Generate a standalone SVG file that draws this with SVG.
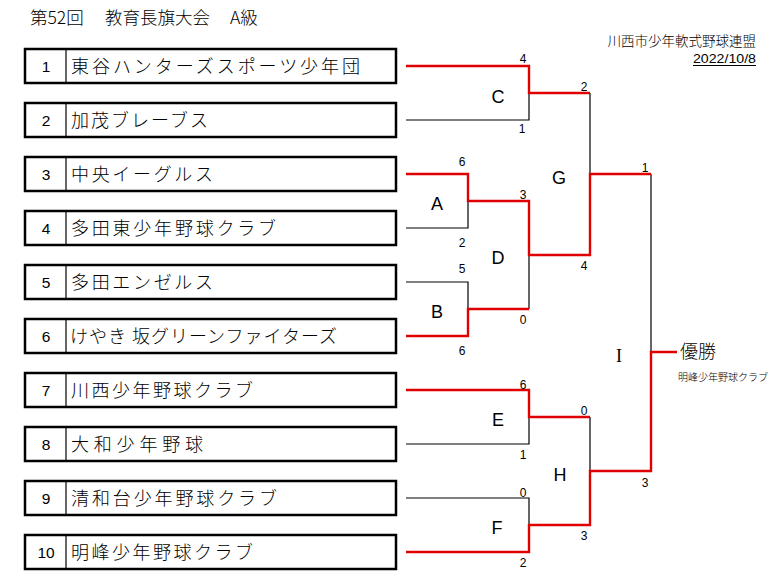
<svg xmlns="http://www.w3.org/2000/svg" width="782" height="588" viewBox="0 0 782 588">
<style>
.jp{font-family:"Noto Sans CJK JP","Liberation Sans",sans-serif;fill:#000;font-weight:300}
.name{font-size:18px}
.num{font-family:"Liberation Sans",sans-serif;font-size:15.5px;text-anchor:middle}
.sc{font-family:"Liberation Sans",sans-serif;font-size:12px;text-anchor:middle}
.ml{font-family:"Liberation Sans",sans-serif;font-size:18px;text-anchor:middle}
.box{fill:#fff;stroke:#000;stroke-width:2.5}
.div{stroke:#000;stroke-width:1.2}
.bk{fill:none;stroke:#000;stroke-width:1.2}
.rd{fill:none;stroke:#e00000;stroke-width:2.4}
</style>
<rect width="782" height="588" fill="#fff"/>
<g id="title">
<text class="jp" y="24" font-size="17.5"><tspan x="30">第52回</tspan><tspan x="105">教育長旗大会</tspan><tspan x="230">A級</tspan></text>
</g>
<g id="header">
<text class="jp" x="756" y="46" font-size="13.5" text-anchor="end">川西市少年軟式野球連盟</text>
<text x="693" y="63" font-family="Liberation Sans,sans-serif" font-size="13" textLength="63" lengthAdjust="spacingAndGlyphs">2022/10/8</text>
<line x1="693" y1="65.5" x2="756" y2="65.5" stroke="#000" stroke-width="1"/>
</g>
<g id="team1"><rect class="box" x="25" y="49" width="371" height="34"/><line class="div" x1="66" y1="49" x2="66" y2="83"/><text class="num" x="46" y="71.5">1</text><text class="jp name" x="71" y="73" textLength="289" lengthAdjust="spacing">東谷ハンターズスポーツ少年団</text></g>
<g id="team2"><rect class="box" x="25" y="103" width="371" height="34"/><line class="div" x1="66" y1="103" x2="66" y2="137"/><text class="num" x="46" y="125.5">2</text><text class="jp name" x="71" y="127" textLength="137" lengthAdjust="spacing">加茂ブレーブス</text></g>
<g id="team3"><rect class="box" x="25" y="157" width="371" height="34"/><line class="div" x1="66" y1="157" x2="66" y2="191"/><text class="num" x="46" y="179.5">3</text><text class="jp name" x="71" y="181" textLength="142" lengthAdjust="spacing">中央イーグルス</text></g>
<g id="team4"><rect class="box" x="25" y="211" width="371" height="34"/><line class="div" x1="66" y1="211" x2="66" y2="245"/><text class="num" x="46" y="233.5">4</text><text class="jp name" x="71" y="235" textLength="205" lengthAdjust="spacing">多田東少年野球クラブ</text></g>
<g id="team5"><rect class="box" x="25" y="265" width="371" height="34"/><line class="div" x1="66" y1="265" x2="66" y2="299"/><text class="num" x="46" y="287.5">5</text><text class="jp name" x="71" y="289" textLength="142" lengthAdjust="spacing">多田エンゼルス</text></g>
<g id="team6"><rect class="box" x="25" y="319" width="371" height="34"/><line class="div" x1="66" y1="319" x2="66" y2="353"/><text class="num" x="46" y="341.5">6</text><text class="jp name" x="70" y="343" textLength="267" lengthAdjust="spacing">けやき 坂グリーンファイターズ</text></g>
<g id="team7"><rect class="box" x="25" y="373" width="371" height="34"/><line class="div" x1="66" y1="373" x2="66" y2="407"/><text class="num" x="46" y="395.5">7</text><text class="jp name" x="71" y="397" textLength="182" lengthAdjust="spacing">川西少年野球クラブ</text></g>
<g id="team8"><rect class="box" x="25" y="427" width="371" height="34"/><line class="div" x1="66" y1="427" x2="66" y2="461"/><text class="num" x="46" y="449.5">8</text><text class="jp name" x="71" y="451" textLength="132" lengthAdjust="spacing">大和少年野球</text></g>
<g id="team9"><rect class="box" x="25" y="481" width="371" height="34"/><line class="div" x1="66" y1="481" x2="66" y2="515"/><text class="num" x="46" y="503.5">9</text><text class="jp name" x="71" y="505" textLength="206" lengthAdjust="spacing">清和台少年野球クラブ</text></g>
<g id="team10"><rect class="box" x="25" y="535" width="371" height="34"/><line class="div" x1="66" y1="535" x2="66" y2="569"/><text class="num" x="46" y="557.5">10</text><text class="jp name" x="71" y="559" textLength="182" lengthAdjust="spacing">明峰少年野球クラブ</text></g>
<g id="connectors">
<path class="bk" d="M406,120H529V93 M406,228H468V201 M406,282H468V309 M529,309V255 M590,93V174 M406,444H529V417 M590,417V471 M406,498H529V525 M651,174V352"/>
<path class="rd" d="M406,66H529V93H590"/>
<path class="rd" d="M406,174H468V201H529V255H590V174H651"/>
<path class="rd" d="M406,336H468V309H529"/>
<path class="rd" d="M406,390H529V417H590"/>
<path class="rd" d="M406,552H529V525H590V471H651V352H677"/>
</g>
<g id="scores">
<text class="sc" x="523" y="63">4</text>
<text class="sc" x="522" y="133">1</text>
<text class="sc" x="584" y="91">2</text>
<text class="sc" x="462" y="166">6</text>
<text class="sc" x="462" y="247">2</text>
<text class="sc" x="523" y="199">3</text>
<text class="sc" x="523" y="324">0</text>
<text class="sc" x="462" y="273">5</text>
<text class="sc" x="462" y="355">6</text>
<text class="sc" x="584" y="270">4</text>
<text class="sc" x="645" y="172">1</text>
<text class="sc" x="645" y="487">3</text>
<text class="sc" x="523" y="389">6</text>
<text class="sc" x="523" y="459">1</text>
<text class="sc" x="584" y="415">0</text>
<text class="sc" x="584" y="540">3</text>
<text class="sc" x="523" y="497">0</text>
<text class="sc" x="523" y="567">2</text>
</g>
<g id="matches">
<text class="ml" x="498" y="103">C</text>
<text class="ml" x="437" y="210">A</text>
<text class="ml" x="498" y="264">D</text>
<text class="ml" x="559" y="184">G</text>
<text class="ml" x="437" y="318">B</text>
<text class="ml" x="498" y="426">E</text>
<text class="ml" x="497" y="534">F</text>
<text class="ml" x="560" y="481">H</text>
<text x="619" y="362" font-family="Liberation Serif,serif" font-size="18" text-anchor="middle">I</text>
</g>
<g id="winner">
<text class="jp" x="680" y="358" font-size="18">優勝</text>
<text class="jp" x="678" y="381" font-size="10">明峰少年野球クラブ</text>
</g>
</svg>
